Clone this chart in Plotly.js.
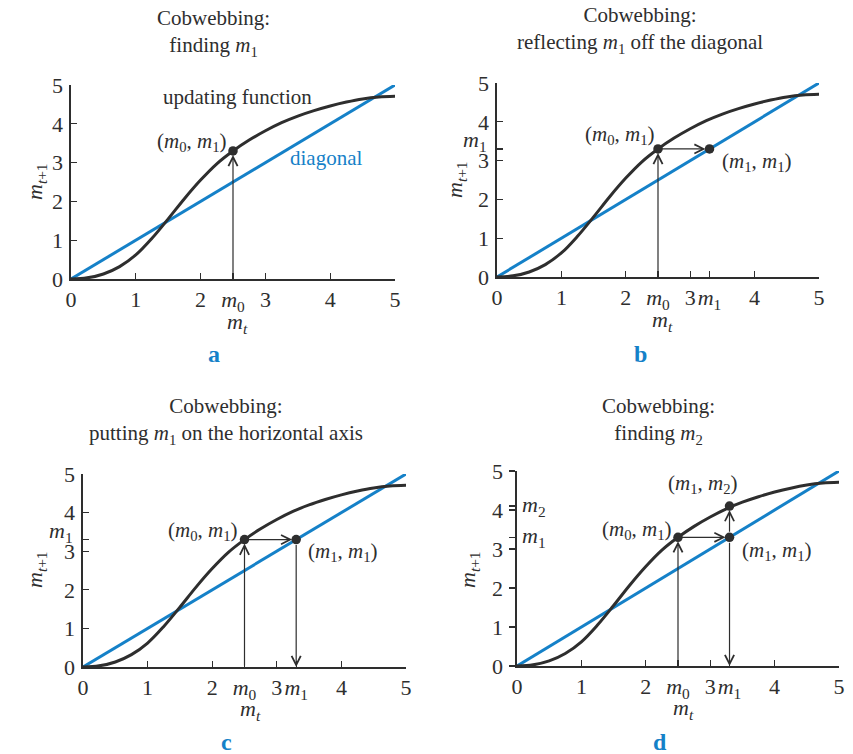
<!DOCTYPE html>
<html>
<head>
<meta charset="utf-8">
<script src="https://cdn.plot.ly/plotly-3.0.1.min.js"></script>
<style>html,body{margin:0;padding:0;background:#fff;}#chart{width:853px;height:754px;}</style>
</head>
<body>
<div id="chart"></div>
<script>
// ---- data ----
const mt = [0, 0.25, 0.5, 0.75, 1, 1.25, 1.5, 1.75, 2, 2.25, 2.5, 2.75, 3, 3.25, 3.5, 3.75, 4, 4.25, 4.5, 4.75, 5];
const updating = [0, 0.03, 0.13, 0.32, 0.62, 1.05, 1.55, 2.07, 2.55, 2.97, 3.3, 3.58, 3.82, 4.03, 4.2, 4.34, 4.46, 4.56, 4.64, 4.69, 4.71];
const diagX = [0, 5];
const diagY = [0, 5];
const cobweb = [2.5, 3.3, 4.1];            // m0, m1, m2
const axisTicks = [0, 1, 2, 3, 4, 5];
const panelLetters = ["a", "b", "c", "d"];
const panelSubtitles = ["finding <i>m</i><sub>1</sub>",
  "reflecting <i>m</i><sub>1</sub> off the diagonal",
  "putting <i>m</i><sub>1</sub> on the horizontal axis",
  "finding <i>m</i><sub>2</sub>"];

// ---- styling ----
const W = 853, H = 754;
const P = x => x / W, Q = y => 1 - y / H;
const FONT = "Liberation Serif, Times New Roman, serif";
const INK = "#2e2e2e", BLUE = "#1581c8";
const m0 = cobweb[0], m1 = cobweb[1], m2 = cobweb[2];
const mlab = i => "<i>m</i><sub>" + i + "</sub>";

const boxes = [ // [x0, x1, yBottom, yTop] in pixels
  [71, 395, 279, 85],
  [497, 819, 277, 83],
  [83, 406, 667, 474],
  [517, 839, 666, 471]
];

function xticks(p) {
  const v = axisTicks.slice(), t = axisTicks.map(String);
  v.push(m0); t.push(mlab(0));
  if (p >= 1) { v.push(m1); t.push(mlab(1)); }
  return [v, t];
}
function yticks(p) {
  const v = axisTicks.slice(), t = axisTicks.map(String);
  if (p >= 1) { v.push(m1); t.push(""); }
  if (p === 3) { v.push(m2); t.push(""); }
  return [v, t];
}

const layout = {
  width: W, height: H, margin: {l: 0, r: 0, t: 0, b: 0},
  paper_bgcolor: "#fff", plot_bgcolor: "rgba(0,0,0,0)",
  showlegend: false, font: {family: FONT, color: INK, size: 21},
  annotations: [], shapes: []
};
const data = [];

boxes.forEach((b, p) => {
  const sfx = p === 0 ? "" : String(p + 1);
  const xr = "x" + sfx, yr = "y" + sfx;
  const [xv, xt] = xticks(p), [yv, yt] = yticks(p);
  layout["xaxis" + sfx] = {
    domain: [P(b[0]), P(b[1])], range: [0, 5], anchor: yr,
    showline: true, linecolor: INK, linewidth: 1.6, showgrid: false, zeroline: false,
    ticks: "inside", ticklen: 6, tickwidth: 1.3, tickcolor: INK,
    tickmode: "array", tickvals: xv, ticktext: xt, ticklabelstandoff: 0,
    tickfont: {family: FONT, size: 22, color: INK}, fixedrange: true
  };
  layout["yaxis" + sfx] = {
    domain: [Q(b[2]), Q(b[3])], range: [0, 5], anchor: xr,
    showline: true, linecolor: INK, linewidth: 1.6, showgrid: false, zeroline: false,
    ticks: p === 3 ? "outside" : "inside", ticklen: 6, tickwidth: 1.3, tickcolor: INK,
    tickmode: "array", tickvals: yv, ticktext: yt, ticklabelstandoff: 2,
    tickfont: {family: FONT, size: 22, color: INK}, fixedrange: true
  };
  // diagonal and updating function
  data.push({x: diagX, y: diagY, xaxis: xr, yaxis: yr, mode: "lines", cliponaxis: false,
    line: {color: BLUE, width: 3}, hoverinfo: "skip"});
  data.push({x: mt, y: updating, xaxis: xr, yaxis: yr, mode: "lines", cliponaxis: false,
    line: {color: INK, width: 3, shape: "spline", smoothing: 1}, hoverinfo: "skip"});
  // cobweb points
  const px = [m0], py = [m1];
  if (p >= 1) { px.push(m1); py.push(m1); }
  if (p >= 3) { px.push(m1); py.push(m2); }
  data.push({x: px, y: py, xaxis: xr, yaxis: yr, mode: "markers", cliponaxis: false,
    marker: {color: INK, size: 9.5}, hoverinfo: "skip"});
  // arrows
  const arrow = (x0, y0, x1, y1, so, sso) => layout.annotations.push({
    xref: xr, yref: yr, axref: xr, ayref: yr, x: x1, y: y1, ax: x0, ay: y0,
    text: "", showarrow: true, arrowhead: 5, arrowsize: 1.5, arrowwidth: 1.2,
    arrowcolor: INK, standoff: so, startstandoff: sso
  });
  arrow(m0, 0, m0, m1, 4, 0);
  if (p >= 1) arrow(m0, m1, m1, m1, 4, 0);
  if (p >= 2) arrow(m1, m1, m1, 0, 0, 4);
  if (p >= 3) arrow(m1, m1, m1, m2, 4, 4);
  // m1 label on the vertical axis
  if (p === 1 || p === 2) layout.annotations.push({xref: xr, yref: yr, x: 0, y: m1,
    xanchor: "right", yanchor: "middle", xshift: -8, yshift: 8, text: mlab(1), showarrow: false,
    font: {family: FONT, size: 22, color: INK}});
  if (p === 3) {
    [[m2, 2], [m1, 1]].forEach(([v, i]) => layout.annotations.push({xref: xr, yref: yr, x: 0, y: v,
      xanchor: "left", yanchor: "middle", xshift: 3, text: mlab(i), showarrow: false,
      font: {family: FONT, size: 22, color: INK}}));
  }
});

// text annotations (pixel positions)
const txt = (x, y, text, opts) => layout.annotations.push(Object.assign({
  xref: "paper", yref: "paper", x: P(x), y: Q(y), text: text, showarrow: false,
  xanchor: "center", yanchor: "middle", font: {family: FONT, size: 21, color: INK}
}, opts || {}));

const titlePos = [[213, 33], [640, 30], [226, 421], [658, 421]];
const letterPos = [[214, 354], [640, 354], [226, 742], [660, 742]];
const xTitlePos = [[237, 323], [662, 321], [250, 710], [683, 709]];
const yTitlePos = [[36, 182], [456, 180], [36, 570], [469, 570]];
for (let i = 0; i < 4; i++) {
  txt(titlePos[i][0], titlePos[i][1], "Cobwebbing:<br>" + panelSubtitles[i]);
  txt(letterPos[i][0], letterPos[i][1], "<b>" + panelLetters[i] + "</b>",
    {font: {family: FONT, size: 24, color: BLUE}});
  txt(xTitlePos[i][0], xTitlePos[i][1], "<i>m</i><sub><i>t</i></sub>", {font: {family: FONT, size: 22, color: INK}});
  txt(yTitlePos[i][0], yTitlePos[i][1], "<i>m</i><sub><i>t</i>+1</sub>", {textangle: -90, font: {family: FONT, size: 22, color: INK}});
}
const pair = (a, b) => "(" + mlab(a) + ", " + mlab(b) + ")";
txt(237, 97, "updating function");
txt(326, 158, "diagonal", {font: {family: FONT, size: 21, color: BLUE}});
txt(192, 142, pair(0, 1));
txt(620, 135, pair(0, 1));
txt(757, 162, pair(1, 1));
txt(203, 531, pair(0, 1));
txt(343, 552, pair(1, 1));
txt(637, 530, pair(0, 1));
txt(777, 551, pair(1, 1));
txt(703, 484, pair(1, 2));

Plotly.newPlot("chart", data, layout, {staticPlot: true, displayModeBar: false});
</script>
</body>
</html>
